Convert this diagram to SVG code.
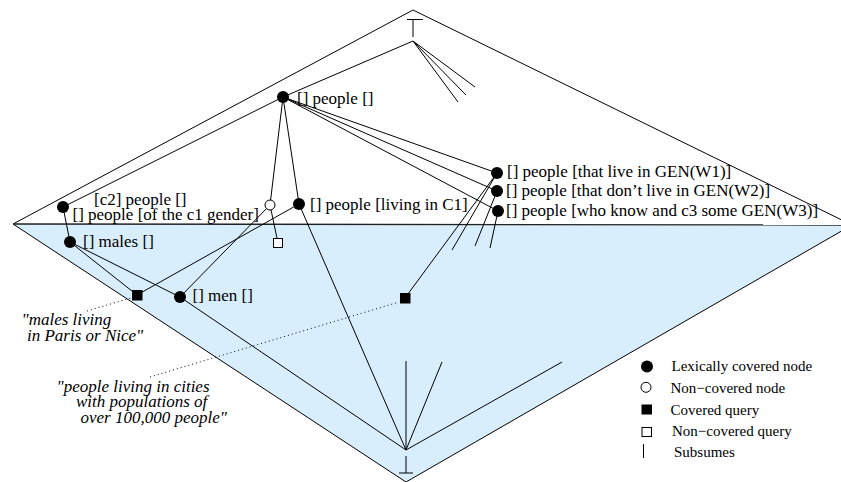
<svg xmlns="http://www.w3.org/2000/svg" width="841" height="482" viewBox="0 0 841 482">
<style>
.ln{stroke:#000;stroke-width:1;fill:none}
.dot{stroke:#000;stroke-width:1;fill:none;stroke-dasharray:1 3}
.lbl{font-family:"Liberation Serif","Times New Roman",serif;font-size:17px;fill:#000}
.it{font-family:"Liberation Serif","Times New Roman",serif;font-size:17px;font-style:italic;fill:#000}
.lg{font-family:"Liberation Serif","Times New Roman",serif;font-size:15px;fill:#000}
.fn{fill:#000}
.on{fill:#fff;stroke:#000;stroke-width:1}
</style>
<rect width="841" height="482" fill="#fff"/>
<g id="lattice">
<polygon points="13,224 852,225 406,482" fill="#d9eefc"/>
<polyline class="ln" points="13,224 413,10 852,225 406,482 13,224"/>
<line x1="13" y1="224" x2="852" y2="225" stroke="#222" stroke-width="1.4"/>
<g id="top">
<line class="ln" x1="407" y1="19.5" x2="423" y2="19.5"/>
<line class="ln" x1="413" y1="19.5" x2="413" y2="37"/>
</g>
<g id="bottom">
<line class="ln" x1="406" y1="456" x2="406" y2="473"/>
<line class="ln" x1="399" y1="473" x2="413" y2="473"/>
</g>
</g>
<g id="connectors">
<line class="ln" x1="413" y1="41" x2="475" y2="87"/>
<line class="ln" x1="413" y1="41" x2="466" y2="95"/>
<line class="ln" x1="413" y1="41" x2="458" y2="102"/>
<line class="ln" x1="413" y1="41" x2="283" y2="97"/>
<line class="ln" x1="283" y1="97" x2="63" y2="207"/>
<line class="ln" x1="283" y1="97" x2="270" y2="205"/>
<line class="ln" x1="283" y1="97" x2="299" y2="204"/>
<line class="ln" x1="283" y1="97" x2="497" y2="173"/>
<line class="ln" x1="283" y1="97" x2="497" y2="191"/>
<line class="ln" x1="283" y1="97" x2="498" y2="211"/>
<line class="ln" x1="63" y1="207" x2="70" y2="242"/>
<line class="ln" x1="70" y1="242" x2="137" y2="295"/>
<line class="ln" x1="70" y1="242" x2="180" y2="297"/>
<line class="ln" x1="270" y1="205" x2="278" y2="243"/>
<line class="ln" x1="270" y1="205" x2="180" y2="297"/>
<line class="ln" x1="299" y1="204" x2="137" y2="295"/>
<line class="ln" x1="299" y1="204" x2="406" y2="450"/>
<line class="ln" x1="180" y1="297" x2="406" y2="450"/>
<line class="ln" x1="497" y1="173" x2="405" y2="298"/>
<line class="ln" x1="497" y1="173" x2="452" y2="250"/>
<line class="ln" x1="497" y1="191" x2="475" y2="246"/>
<line class="ln" x1="498" y1="211" x2="490" y2="248"/>
<line class="ln" x1="406" y1="361" x2="406" y2="450"/>
<line class="ln" x1="442" y1="362" x2="406" y2="450"/>
<line class="ln" x1="562" y1="362" x2="406" y2="450"/>
<line class="dot" x1="87" y1="311" x2="131" y2="298"/>
<line class="dot" x1="150" y1="377" x2="399" y2="302"/>
</g>
<g id="n-people"><circle class="fn" cx="283" cy="97" r="6"/><text class="lbl" x="297" y="104">[] people []</text></g>
<g id="n-c2"><circle class="fn" cx="63" cy="207" r="6"/><text class="lbl" x="94" y="205">[c2] people []</text><text class="lbl" x="72.5" y="220">[] people [of the c1 gender]</text></g>
<g id="n-open"><circle class="on" cx="270" cy="205" r="5"/></g>
<g id="n-living"><circle class="fn" cx="299" cy="204" r="6"/><text class="lbl" x="310" y="210">[] people [living in C1]</text></g>
<g id="n-w1"><circle class="fn" cx="497" cy="173" r="6"/><text class="lbl" x="507" y="177">[] people [that live in GEN(W1)]</text></g>
<g id="n-w2"><circle class="fn" cx="497" cy="191" r="6"/><text class="lbl" x="506" y="196">[] people [that don’t live in GEN(W2)]</text></g>
<g id="n-w3"><circle class="fn" cx="498" cy="211" r="6"/><text class="lbl" x="506" y="216">[] people [who know and c3 some GEN(W3)]</text></g>
<g id="n-males"><circle class="fn" cx="70" cy="242" r="6"/><text class="lbl" x="83" y="247">[] males []</text></g>
<g id="n-men"><circle class="fn" cx="180" cy="297" r="6"/><text class="lbl" x="192.5" y="301">[] men []</text></g>
<g id="q-open"><rect class="on" x="273.5" y="238.5" width="9" height="9"/></g>
<g id="q-males"><rect class="fn" x="132" y="290" width="10.5" height="10.5"/><text class="it" x="21.5" y="325">"males living</text><text class="it" x="27" y="341"> in Paris or Nice"</text></g>
<g id="q-people"><rect class="fn" x="400" y="293" width="10.5" height="10.5"/><text class="it" x="56.5" y="392">"people living in cities</text><text class="it" x="76" y="407">with populations of</text><text class="it" x="80.5" y="423">over 100,000 people"</text></g>
<g id="legend">
<circle class="fn" cx="647" cy="366.5" r="6"/><text class="lg" x="671.5" y="371">Lexically covered node</text>
<circle class="on" cx="646" cy="387.3" r="5"/><text class="lg" x="670.5" y="392.5">Non−covered node</text>
<rect class="fn" x="641.5" y="404.5" width="10.5" height="10"/><text class="lg" x="670.5" y="415">Covered query</text>
<rect class="on" x="642" y="427.5" width="9.5" height="9"/><text class="lg" x="672" y="436">Non−covered query</text>
<line class="ln" x1="643.5" y1="444" x2="643.5" y2="458"/><text class="lg" x="674" y="457">Subsumes</text>
</g>
</svg>
